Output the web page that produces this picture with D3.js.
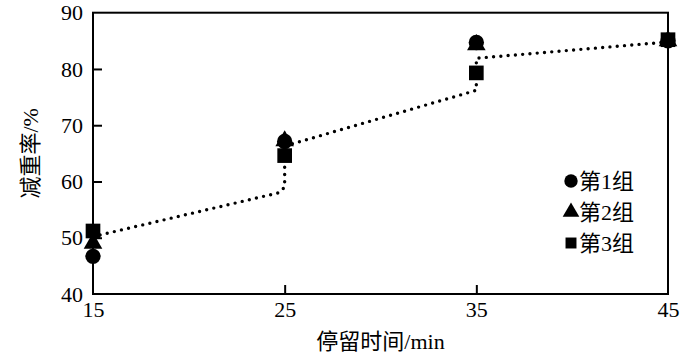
<!DOCTYPE html>
<html><head><meta charset="utf-8">
<script src="https://cdn.jsdelivr.net/npm/d3@7"></script>
<style>
body{margin:0;background:#fff;}
svg{display:block;}
text{font-family:"Liberation Serif","Noto Sans CJK SC",serif;fill:#000;}
</style></head><body>
<svg id="c" width="700" height="359"></svg>
<script>
const times = [15, 25, 35, 45];
const group1 = [46.7, 67.1, 84.7, 85.0];
const group2 = [49.0, 67.2, 84.3, 85.0];
const group3 = [51.2, 64.6, 79.3, 85.2];
const seriesNames = ["第1组", "第2组", "第3组"];
const trendX = [15, 24.7, 25, 25, 35, 35, 45];
const trendY = [50.2, 58.0, 59.0, 66.3, 76.2, 81.9, 84.8];
const xTicks = [15, 25, 35, 45];
const yTicks = [40, 50, 60, 70, 80, 90];

const svg = d3.select("#c");
const L = 93, R = 668, T = 12.7, B = 294;
const x = d3.scaleLinear().domain([15, 45]).range([L, R]);
const y = d3.scaleLinear().domain([40, 90]).range([B, T]);

// frame
svg.append("rect").attr("x", L).attr("y", T).attr("width", R - L).attr("height", B - T)
  .attr("fill", "none").attr("stroke", "#000").attr("stroke-width", 2);

// axes
const ya = svg.append("g").attr("transform", `translate(${L},0)`)
  .call(d3.axisLeft(y).tickValues(yTicks).tickSize(-9).tickPadding(10).tickFormat(d3.format("d")));
ya.select(".domain").remove();
ya.selectAll(".tick line").attr("stroke-width", 2).filter(d => d === 40 || d === 90).remove();
ya.selectAll("text").attr("font-size", 22);

const xa = svg.append("g").attr("transform", `translate(0,${B})`)
  .call(d3.axisBottom(x).tickValues(xTicks).tickSize(-9).tickPadding(7).tickFormat(d3.format("d")));
xa.select(".domain").remove();
xa.selectAll(".tick line").attr("stroke-width", 2).filter(d => d === 15 || d === 45).remove();
xa.selectAll("text").attr("font-size", 22);

// axis titles
svg.append("text").attr("x", (L + R) / 2).attr("y", 349).attr("text-anchor", "middle")
  .attr("font-size", 22).text("停留时间/min");
svg.append("text").attr("transform", `translate(38,${(T + B) / 2}) rotate(-90)`)
  .attr("text-anchor", "middle").attr("font-size", 22).text("减重率/%");

// trend line (dotted)
const pts = trendX.map((v, i) => [v, trendY[i]]);
svg.append("path").attr("d", d3.line().x(d => x(d[0])).y(d => y(d[1]))(pts))
  .attr("fill", "none").attr("stroke", "#000").attr("stroke-width", 3.4)
  .attr("stroke-linecap", "round").attr("stroke-dasharray", "0,7.3");

// markers (triangles first, then circles, then squares)
const symbols = [d3.symbolCircle, d3.symbolTriangle, d3.symbolSquare];
const sizes = [185, 150, 215];
const data = [group1, group2, group3];
[1, 0, 2].forEach(s => {
  svg.append("g").selectAll("path").data(data[s]).join("path")
    .attr("transform", (d, i) => `translate(${x(times[i])},${y(d)})`)
    .attr("d", d3.symbol().type(symbols[s]).size(sizes[s])())
    .attr("fill", "#000");
});

// legend
const legSizes = [140, 120, 120];
seriesNames.forEach((n, i) => {
  const cy = 181 + i * 31;
  svg.append("path").attr("transform", `translate(571,${cy})`)
    .attr("d", d3.symbol().type(symbols[i]).size(legSizes[i])()).attr("fill", "#000");
  svg.append("text").attr("x", 579).attr("y", cy).attr("dy", "0.36em")
    .attr("font-size", 22).text(n);
});
</script>
</body></html>
